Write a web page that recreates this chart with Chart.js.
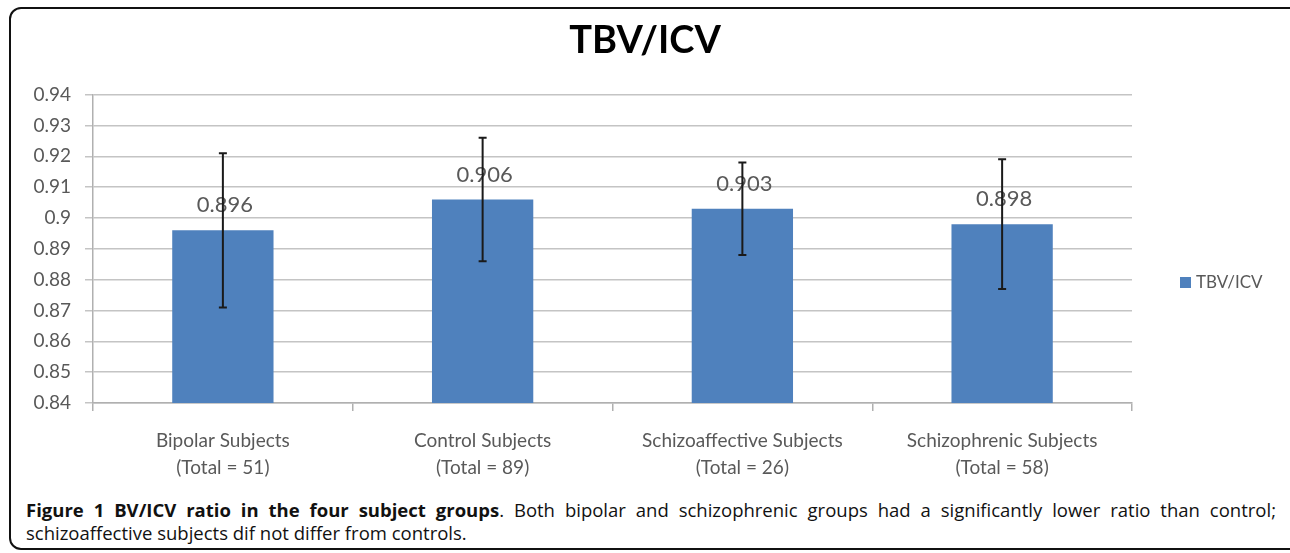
<!DOCTYPE html>
<html>
<head>
<meta charset="utf-8">
<script src="https://cdn.jsdelivr.net/npm/chart.js@4/dist/chart.umd.min.js"></script>
<style>
  body { margin: 0; background: #fff; }
  #wrap { position: relative; width: 1290px; height: 553px; overflow: hidden; }
  #frame {
    position: absolute; left: 9px; top: 7px; width: 1300px; height: 543px;
    border: 2px solid #111; border-radius: 12px; box-sizing: border-box;
  }
  #myChart { position: absolute; left: 0; top: 0; }
  #caption {
    position: absolute; left: 26px; top: 498px; width: 1250px;
    font-family: "Open Sans", sans-serif; font-size: 18.5px; line-height: 23px;
    color: #111;
  }
  #caption .first { display: block; text-align: justify; text-align-last: justify; white-space: nowrap; }
</style>
</head>
<body>
<div id="wrap">
  <div id="frame"></div>
  <canvas id="myChart" width="1290" height="490"></canvas>
  <div id="caption"><span class="first"><b>Figure 1 BV/ICV ratio in the four subject groups</b>. Both bipolar and schizophrenic groups had a significantly lower ratio than control;</span>schizoaffective subjects dif not differ from controls.</div>
</div>
<script>
// chart data
const groups = [
  ['Bipolar Subjects', '(Total = 51)'],
  ['Control Subjects', '(Total = 89)'],
  ['Schizoaffective Subjects', '(Total = 26)'],
  ['Schizophrenic Subjects', '(Total = 58)']
];
const ratios = [0.896, 0.906, 0.903, 0.898];
const errHigh = [0.921, 0.926, 0.918, 0.919];
const errLow = [0.871, 0.886, 0.888, 0.877];
const yTicks = [0.84, 0.85, 0.86, 0.87, 0.88, 0.89, 0.9, 0.91, 0.92, 0.93, 0.94];

const textColor = '#595959';
const chartFont = 'Lato, "Liberation Sans", sans-serif';

// error bars drawn from the errHigh / errLow arrays
const errorBars = {
  id: 'errorBars',
  afterDatasetsDraw(chart) {
    let ctx = chart.ctx;
    let meta = chart.getDatasetMeta(0);
    let y = chart.scales.y;
    ctx.save();
    ctx.strokeStyle = '#1a1a1a';
    ctx.lineWidth = 2;
    meta.data.forEach((bar, i) => {
      let top = y.getPixelForValue(errHigh[i]);
      let bot = y.getPixelForValue(errLow[i]);
      ctx.beginPath();
      ctx.moveTo(bar.x, top); ctx.lineTo(bar.x, bot);
      ctx.moveTo(bar.x - 4, top); ctx.lineTo(bar.x + 4, top);
      ctx.moveTo(bar.x - 4, bot); ctx.lineTo(bar.x + 4, bot);
      ctx.stroke();
    });
    ctx.restore();
  }
};

// value labels above bars
const valueLabels = {
  id: 'valueLabels',
  afterDatasetsDraw(chart) {
    let ctx = chart.ctx;
    let meta = chart.getDatasetMeta(0);
    ctx.save();
    ctx.font = '22px ' + chartFont;
    ctx.fillStyle = textColor;
    ctx.textAlign = 'center';
    ctx.textBaseline = 'middle';
    meta.data.forEach((bar, i) => {
      ctx.fillText(String(ratios[i]), bar.x + 2, bar.y - 25);
    });
    ctx.restore();
  }
};

// simple legend on the right
const sideLegend = {
  id: 'sideLegend',
  afterDraw(chart) {
    let ctx = chart.ctx;
    let ds = chart.data.datasets[0];
    ctx.save();
    ctx.fillStyle = ds.backgroundColor;
    ctx.fillRect(1180, 277, 11, 11);
    ctx.font = '17px ' + chartFont;
    ctx.fillStyle = textColor;
    ctx.textBaseline = 'middle';
    ctx.fillText(ds.label, 1196, 283);
    ctx.restore();
  }
};

let ctx = document.getElementById('myChart').getContext('2d');
let myChart = new Chart(ctx, {
  type: 'bar',
  data: {
    labels: groups,
    datasets: [{
      label: 'TBV/ICV',
      data: ratios,
      backgroundColor: '#4f81bd',
      borderWidth: 0,
      barPercentage: 0.39,
      categoryPercentage: 1
    }]
  },
  options: {
    responsive: false,
    animation: false,
    events: [],
    layout: { padding: 0 },
    plugins: {
      legend: { display: false },
      tooltip: { enabled: false },
      title: {
        display: true,
        text: 'TBV/ICV',
        color: '#000',
        font: { family: chartFont, size: 38, weight: 'bold', lineHeight: 1.2 },
        padding: { top: 18, bottom: 31 }
      }
    },
    scales: {
      x: {
        offset: true,
        grid: { offset: true, drawOnChartArea: false, color: '#b0b0b0', lineWidth: 1.5, tickLength: 8 },
        border: { color: '#b0b0b0', width: 1.5 },
        ticks: { color: textColor, padding: 16, font: { family: chartFont, size: 19, lineHeight: 1.42 }, maxRotation: 0 },
        afterFit: s => { s.height = 87; }
      },
      y: {
        min: 0.84,
        max: 0.94,
        afterBuildTicks: s => { s.ticks = yTicks.map(v => ({ value: v })); },
        afterFit: s => { s.width = 93; },
        grid: { color: '#c4c4c4', lineWidth: 1.5, tickLength: 8 },
        border: { color: '#b0b0b0', width: 1.5 },
        ticks: {
          color: textColor,
          padding: 14,
          font: { family: chartFont, size: 19 },
          callback: v => String(parseFloat(v.toFixed(2)))
        }
      },
      // empty right axis reserves the room where the legend sits
      side: {
        position: 'right',
        min: 0, max: 1,
        grid: { display: false, drawTicks: false },
        border: { display: false },
        ticks: { display: false },
        afterFit: s => { s.width = 158; }
      }
    }
  },
  plugins: [valueLabels, errorBars, sideLegend]
});
</script>
</body>
</html>
